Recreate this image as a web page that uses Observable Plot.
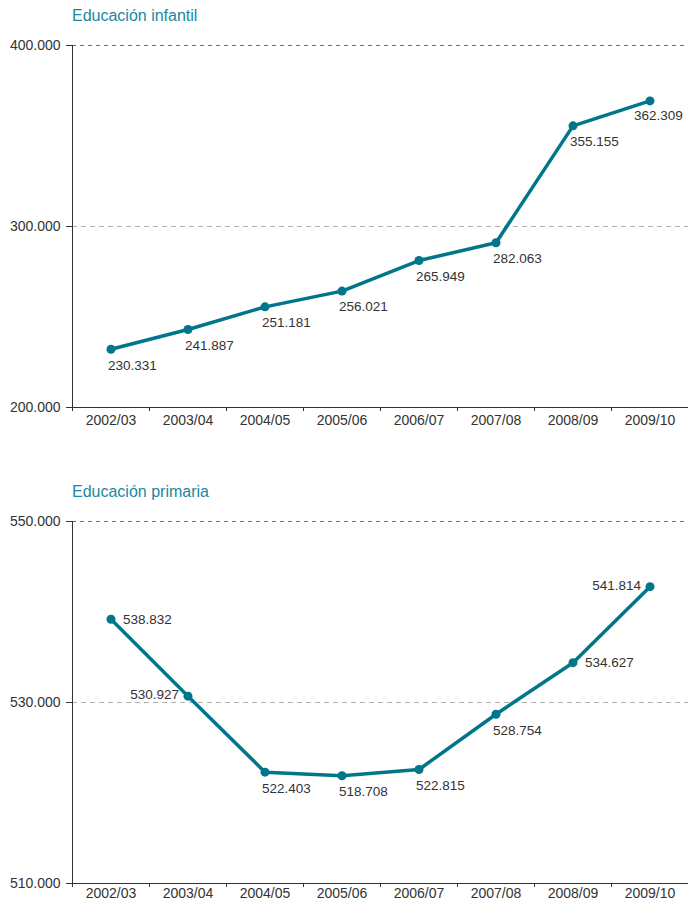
<!DOCTYPE html>
<html><head><meta charset="utf-8">
<script src="https://cdn.jsdelivr.net/npm/d3@7"></script>
<script src="https://cdn.jsdelivr.net/npm/@observablehq/plot@0.6"></script>
<style>
body{margin:0;background:#fff;font-family:"Liberation Sans",Arial,sans-serif;}
#wrap{position:relative;width:688px;height:902px;overflow:hidden;background:#fff;}
.title{position:absolute;left:72px;font-size:16px;line-height:20px;color:#1b87a3;white-space:nowrap;}
.chart{position:absolute;left:0;}
</style></head>
<body><div id="wrap">
<div class="chart" id="c1" style="top:0px"></div>
<div class="chart" id="c2" style="top:470px"></div>
<div class="title" style="top:6px">Educación infantil</div>
<div class="title" style="top:482px">Educación primaria</div>
</div>
<script>
const categories = ["2002/03","2003/04","2004/05","2005/06","2006/07","2007/08","2008/09","2009/10"];

const infantilValues = [232200, 243100, 255600, 264300, 281200, 291000, 355600, 369400];
const infantilLabels = ["230.331","241.887","251.181","256.021","265.949","282.063","355.155","362.309"];
const infantilTicks = [200000, 300000, 400000];

const primariaValues = [539200, 530700, 522300, 521900, 522600, 528700, 534400, 542800];
const primariaLabels = ["538.832","530.927","522.403","518.708","522.815","528.754","534.627","541.814"];
const primariaTicks = [510000, 530000, 550000];

// layout config (label placement relative to each point)
const infantilPlacement = ["below","below","below","below","below","below","below","belowLeft"];
const primariaPlacement = ["right","left","below","below","below","below","right","left"];

const placeStyle = {
  below:     {textAnchor: "start", dx: -3,  dy: 16},
  belowLeft: {textAnchor: "start", dx: -16, dy: 15},
  right:     {textAnchor: "start", dx: 12,  dy: 0},
  left:      {textAnchor: "end",   dx: -9,  dy: -1}
};

const fmt = d => d3.format(",")(d).replace(/,/g, ".");
const teal = "#00768b";

function chart({values, labels, ticks, placement, height, marginTop, marginBottom, labelPad}) {
  const data = categories.map((c, i) => ({c, x: i + 0.5, v: values[i], label: labels[i], place: placement[i]}));
  const textMarks = Object.entries(placeStyle).map(([k, s]) =>
    Plot.text(data.filter(d => d.place === k), {x: "x", y: "v", text: "label", ...s, fontSize: 13.5, fill: "#333"}));
  return Plot.plot({
    width: 688, height, marginTop, marginBottom, marginLeft: 72, marginRight: 0,
    x: {domain: [0, categories.length]},
    y: {domain: [ticks[0], ticks[ticks.length - 1]]},
    style: {fontFamily: "'Liberation Sans', Arial, sans-serif", fontSize: "14px", color: "#333", overflow: "visible"},
    marks: [
      Plot.ruleY([ticks[1]], {stroke: "#b0b0b0", strokeDasharray: "5,4"}),
      Plot.ruleY([ticks[2]], {stroke: "#707070", strokeDasharray: "4,4"}),
      Plot.ruleY([ticks[0]], {stroke: "#333"}),
      Plot.ruleX([0], {stroke: "#333"}),
      Plot.axisY({ticks, tickFormat: fmt, tickSize: 6, tickPadding: 6, label: null, fontSize: 14, stroke: "#333"}),
      Plot.axisX({ticks: d3.range(categories.length + 1), tickSize: 4, tickFormat: () => "", label: null, stroke: "#333"}),
      Plot.axisX({ticks: categories.map((c, i) => i + 0.5), tickFormat: t => categories[Math.floor(t)], tickSize: 0, tickPadding: labelPad, label: null, fontSize: 14}),
      Plot.line(data, {x: "x", y: "v", stroke: teal, strokeWidth: 3.5}),
      Plot.dot(data, {x: "x", y: "v", r: 4.5, fill: teal}),
      ...textMarks
    ]
  });
}

document.getElementById("c1").append(chart({
  values: infantilValues, labels: infantilLabels, ticks: infantilTicks, placement: infantilPlacement,
  height: 440, marginTop: 45, marginBottom: 33, labelPad: 8
}));
document.getElementById("c2").append(chart({
  values: primariaValues, labels: primariaLabels, ticks: primariaTicks, placement: primariaPlacement,
  height: 432, marginTop: 51, marginBottom: 19, labelPad: 5
}));
</script>
</body></html>
